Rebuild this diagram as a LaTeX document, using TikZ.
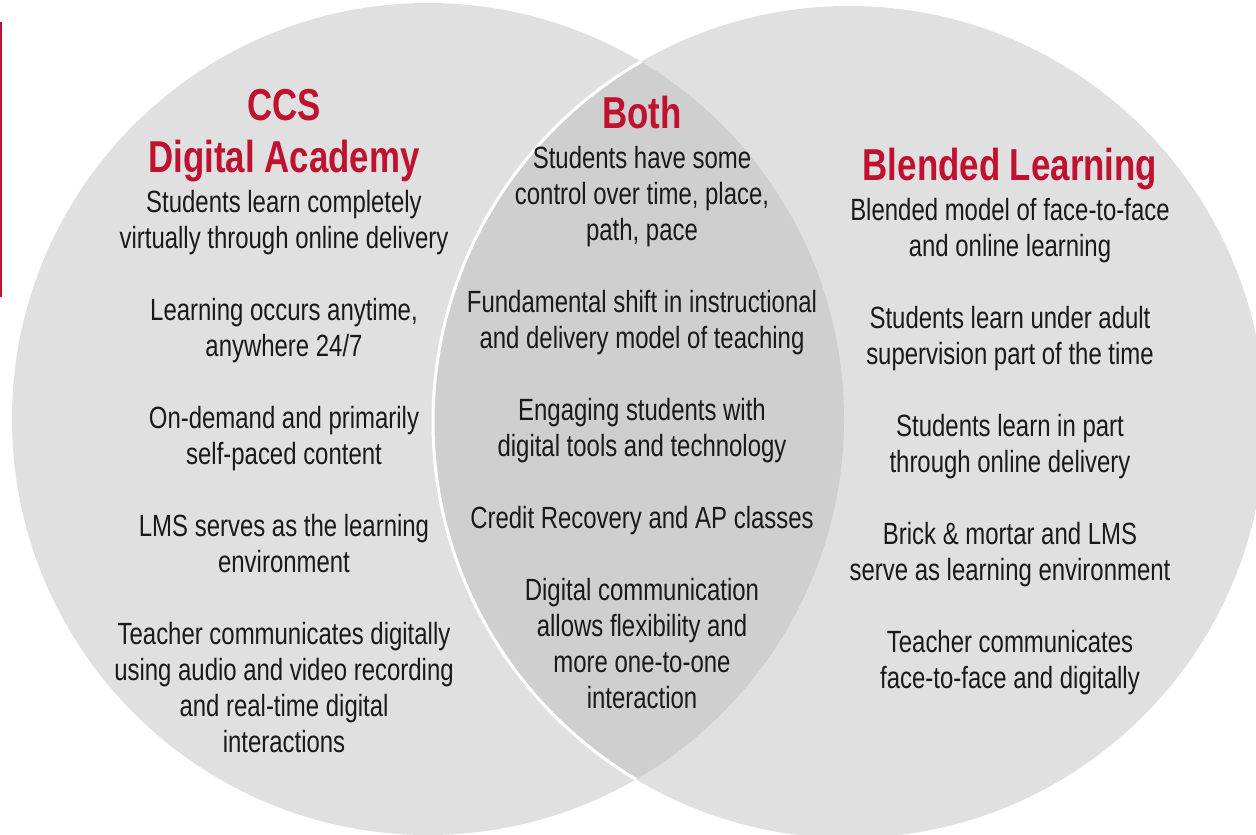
\documentclass[tikz,border=0pt]{standalone}
\usepackage{fontspec}
\setmainfont[FakeStretch=0.78]{Liberation Sans}
\usetikzlibrary{positioning}

\definecolor{ccsred}{RGB}{190,18,48}
\definecolor{ringgray}{RGB}{224,224,224}
\definecolor{lensgray}{RGB}{207,207,207}

\begin{document}
\begin{tikzpicture}[x=1pt,y=-1pt,
		head/.style={align=center,text=ccsred,inner sep=0pt,anchor=base,
			font=\fontsize{44.7}{52}\selectfont\bfseries},
		item/.style={align=center,text=black!90,inner sep=0pt,anchor=base,
			font=\fontsize{30.7}{36}\selectfont}]
	\useasboundingbox (0,0) rectangle (1256,835);
	\clip (0,0) rectangle (1256,835);
	
	% the two circles and their overlap
	\coordinate (lc) at (428,419);
	\coordinate (rc) at (849,422);
	\fill[ringgray] (lc) circle (416pt);
	\fill[ringgray] (rc) circle (416pt);
	\begin{scope}
		\clip (lc) circle (416pt);
		\fill[lensgray] (rc) circle (416pt);
		\draw[white,line width=3pt] (rc) circle (416pt);
	\end{scope}
	
	% red bar on the left
	\coordinate (bar0) at (1,22);
	\coordinate (bar1) at (1,297);
	\draw[ccsred,line width=2pt] (bar0) -- (bar1);
	
	% left circle (base = last line of each node)
	\node[head] (ccs) at (284,172) {CCS\\Digital Academy};
	\node[item] (ccs1) at ([yshift=-76pt]ccs.base) {Students learn completely\\virtually through online delivery};
	\node[item] (ccs2) at ([yshift=-108pt]ccs1.base) {Learning occurs anytime,\\anywhere 24/7};
	\node[item] (ccs3) at ([yshift=-108pt]ccs2.base) {On-demand and primarily\\self-paced content};
	\node[item] (ccs4) at ([yshift=-108pt]ccs3.base) {LMS serves as the learning\\environment};
	\node[item] (ccs5) at ([yshift=-180pt]ccs4.base) {Teacher communicates digitally\\using audio and video recording\\and real-time digital\\interactions};
	
	% overlap
	\node[head] (both) at (642,128) {Both};
	\node[item] (both1) at ([yshift=-112pt]both.base) {Students have some\\control over time, place,\\path, pace};
	\node[item] (both2) at ([yshift=-108pt]both1.base) {Fundamental shift in instructional\\and delivery model of teaching};
	\node[item] (both3) at ([yshift=-108pt]both2.base) {Engaging students with\\digital tools and technology};
	\node[item] (both4) at ([yshift=-72pt]both3.base) {Credit Recovery and AP classes};
	\node[item] (both5) at ([yshift=-180pt]both4.base) {Digital communication\\allows flexibility and\\more one-to-one\\interaction};
	
	% right circle
	\node[head] (blend) at (1010,180) {Blended Learning};
	\node[item] (blend1) at ([yshift=-76pt]blend.base) {Blended model of face-to-face\\and online learning};
	\node[item] (blend2) at ([yshift=-108pt]blend1.base) {Students learn under adult\\supervision part of the time};
	\node[item] (blend3) at ([yshift=-108pt]blend2.base) {Students learn in part\\through online delivery};
	\node[item] (blend4) at ([yshift=-108pt]blend3.base) {Brick \& mortar and LMS\\serve as learning environment};
	\node[item] (blend5) at ([yshift=-108pt]blend4.base) {Teacher communicates\\face-to-face and digitally};
\end{tikzpicture}
\end{document}
